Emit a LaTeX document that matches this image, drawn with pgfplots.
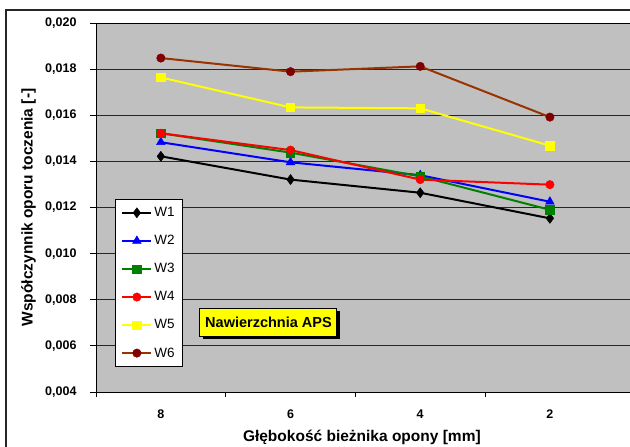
\documentclass[border=0pt]{standalone}
\usepackage{pgfplots}
\pgfplotsset{compat=1.18}
\usepackage{fontspec}
\setmainfont{Liberation Sans}
\usetikzlibrary{shadows}
\definecolor{plotgray}{RGB}{192,192,192}
\definecolor{wgreen}{RGB}{0,128,0}
\definecolor{wbrown}{RGB}{153,51,0}
\definecolor{wdarkred}{RGB}{128,0,0}
\definecolor{wyellow}{RGB}{255,255,0}
\begin{document}
\begin{tikzpicture}
\useasboundingbox (0pt,0pt) rectangle (630pt,-447pt);
\draw[line width=1.5pt, black!85] (6pt,-447pt) -- (6pt,-10pt) -- (630pt,-10pt);
\begin{axis}[
  at={(96pt,-392pt)}, anchor=south west,
  scale only axis, width=536pt, height=369pt,
  xmin=-0.5, xmax=3.633, ymin=0.004, ymax=0.020,
  axis background/.style={fill=plotgray},
  axis line style={black, line width=1pt},
  xtick={0,1,2,3}, xticklabels={8,6,4,2},
  minor xtick={-0.5,0.5,1.5,2.5},
  major x tick style={draw=none},
  minor x tick style={black, line width=1pt},
  minor tick length=5pt,
  ytick={0.004,0.006,0.008,0.010,0.012,0.014,0.016,0.018,0.020},
  y tick style={black, line width=1pt},
  major tick length=6pt,
  tick align=outside,
  xtick pos=bottom, ytick pos=left,
  scaled y ticks=false,
  /pgf/number format/fixed, /pgf/number format/fixed zerofill,
  /pgf/number format/precision=3, /pgf/number format/use comma,
  /pgf/number format/assume math mode=true,
  tick label style={font=\fontsize{12.5}{14}\selectfont\bfseries},
  xticklabel style={yshift=-8pt},
  yticklabel style={xshift=-10pt},
  ymajorgrids, grid style={black!85, line width=0.8pt},
  xlabel={Głębokość bieżnika opony [mm]},
  ylabel={Współczynnik oporu toczenia [-]},
  label style={font=\fontsize{15.5}{18}\selectfont\bfseries},
  x label style={at={(axis description cs:0.496,-0.122)}, anchor=center},
  y label style={at={(axis description cs:-0.126,0.5)}, anchor=center, rotate=0},
  legend style={at={(rel axis cs:0.0354,0.523)}, anchor=north west,
    draw=black, fill=white, line width=0.8pt,
    font=\fontsize{13.5}{16}\selectfont, row sep=13.2pt,
    inner xsep=6pt, inner ysep=6pt},
  legend cell align=left,
  legend image code/.code={\draw[mark repeat=2,mark phase=2,#1] plot coordinates {(0pt,0pt) (14.5pt,0pt) (29pt,0pt)};},
  every axis plot/.append style={line width=2pt},
]
\addplot[black, mark=diamond*, mark size=5pt, mark options={solid, fill=black, line width=0.5pt}] coordinates {(0,0.01422) (1,0.01321) (2,0.01264) (3,0.01153)};
\addlegendentry{W1}
\addplot[blue, mark=triangle*, mark size=5pt, mark options={solid, fill=blue, line width=0.5pt}] coordinates {(0,0.01483) (1,0.01396) (2,0.01340) (3,0.01225)};
\addlegendentry{W2}
\addplot[wgreen, mark=square*, mark size=4.2pt, mark options={solid, fill=wgreen, line width=0.5pt}] coordinates {(0,0.01522) (1,0.01438) (2,0.01335) (3,0.01190)};
\addlegendentry{W3}
\addplot[red, mark=*, mark size=4.2pt, mark options={solid, fill=red, line width=0.5pt}] coordinates {(0,0.01522) (1,0.01449) (2,0.01321) (3,0.01299)};
\addlegendentry{W4}
\addplot[wyellow, mark=square*, mark size=4.2pt, mark options={solid, fill=wyellow, line width=0.5pt}] coordinates {(0,0.01764) (1,0.01634) (2,0.01630) (3,0.01468)};
\addlegendentry{W5}
\addplot[wbrown, mark=*, mark size=4.2pt, mark options={solid, draw=wdarkred, fill=wdarkred, line width=0.5pt}] coordinates {(0,0.01848) (1,0.01789) (2,0.01812) (3,0.01592)};
\addlegendentry{W6}
\node[fill=wyellow, draw=black, line width=1pt, minimum width=137pt, minimum height=28pt,
  font=\fontsize{14.5}{17}\selectfont\bfseries,
  drop shadow={shadow xshift=3pt, shadow yshift=-3pt, opacity=1, fill=black}]
  at (rel axis cs:0.3218,0.1897) {Nawierzchnia APS};
\end{axis}
\end{tikzpicture}
\end{document}
